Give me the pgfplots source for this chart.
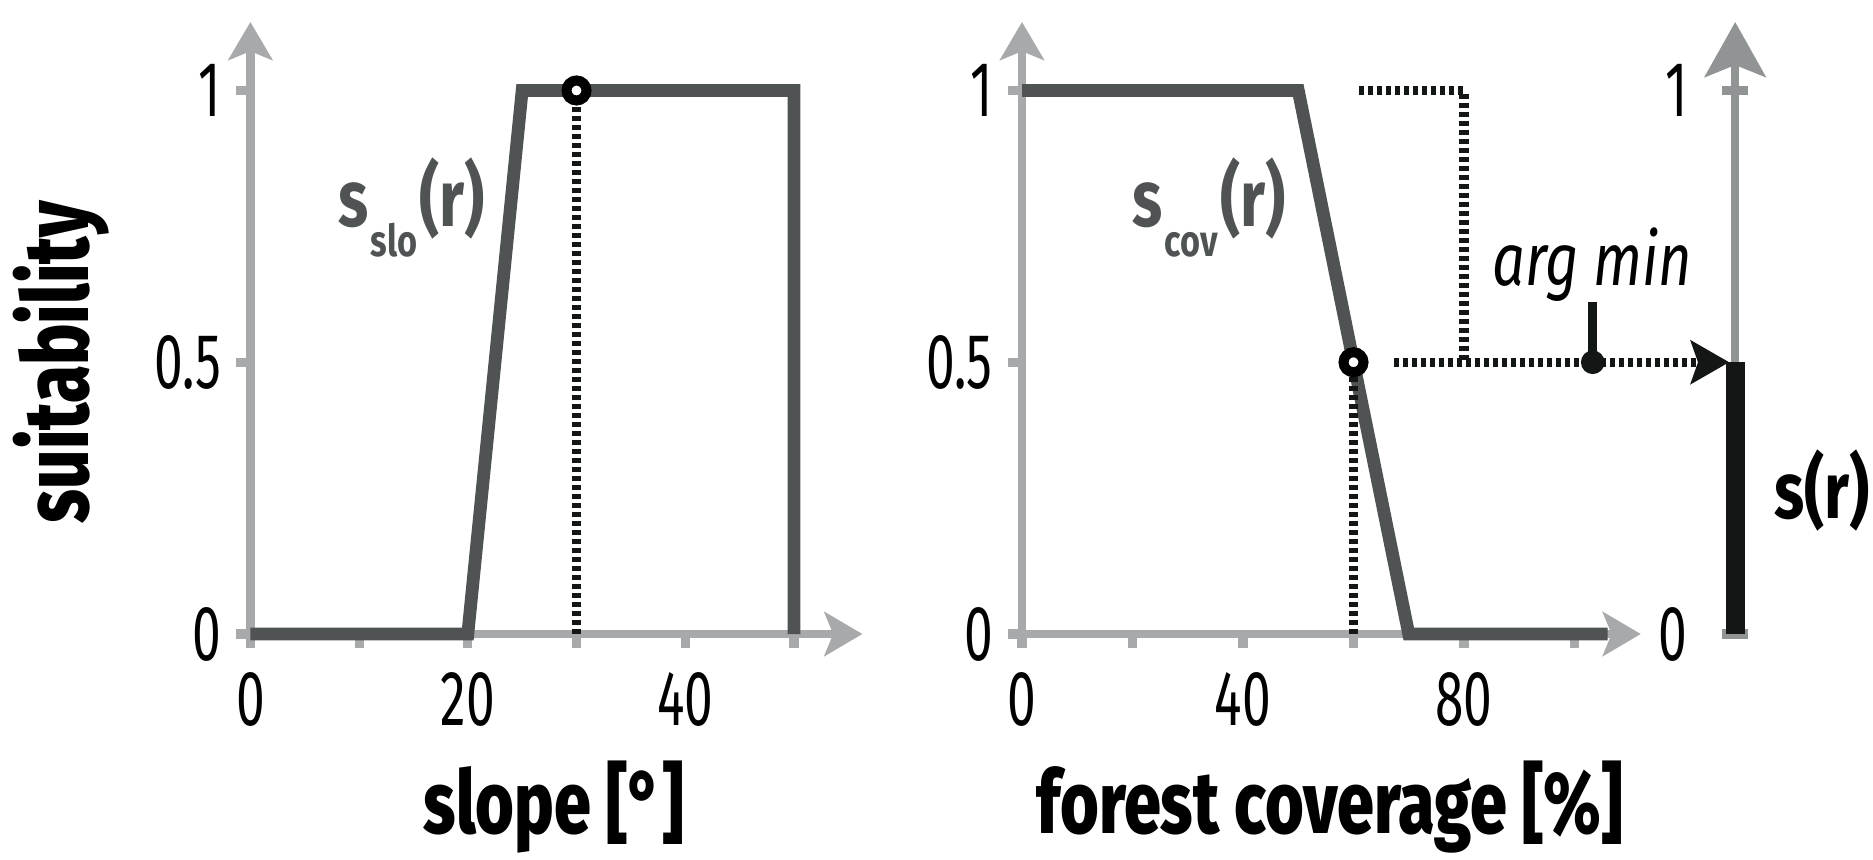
\documentclass[border=0pt]{standalone}
\usepackage{fontspec}
\setmainfont{Fira Sans}[FakeStretch=0.78, UprightFont={* Light}, ItalicFont={* Italic}, BoldFont={* Bold}, BoldItalicFont={* Bold Italic}]
\newfontfamily\tickfont{Fira Sans}[FakeStretch=0.66]
\newfontfamily\labfont{Fira Sans ExtraBold}[FakeStretch=0.755]
\usepackage{pgfplots}
\pgfplotsset{compat=1.18}
\usetikzlibrary{arrows.meta}
\definecolor{axgray}{HTML}{A7A9AA}
\definecolor{axthree}{HTML}{919495}
\definecolor{curvegray}{HTML}{4F5354}
\definecolor{nearblack}{HTML}{121614}
\pgfplotsset{
  myaxis/.style={
    scale only axis, axis lines=left,
    axis line style={axgray, line width=2.2pt},
    x axis line style={-{Stealth[length=9.5pt,width=11pt,inset=2.2pt]}},
    y axis line style={-{Stealth[length=9.5pt,width=11pt,inset=2.2pt]}},
    tick align=outside, major tick length=3.5pt,
    tick style={axgray, line width=2.3pt},
    ymin=0, ymax=1.126, ytick={0,0.5,1},
    clip=false,
    /pgf/number format/assume math mode=true,
    ticklabel style={font=\tickfont\fontsize{19.5}{19.5}\selectfont, inner sep=0pt, text=black},
    yticklabel style={xshift=-3.6pt},
    xticklabel style={yshift=-6pt},
  },
  curve/.style={curvegray, line width=3.2pt, line join=miter, mark=none},
  dots/.style={nearblack, line width=2.3pt, dash pattern=on 1.3pt off 0.95pt, mark=none},
  ring/.style={only marks, mark=*, mark size=2.5pt, mark options={draw=black, fill=white, line width=2.5pt, solid}},
}
\newcommand{\slab}[2]{{\fontsize{20}{20}\selectfont\bfseries #1\hspace{0.5pt}\raisebox{-7.5pt}{\fontsize{11}{11}\selectfont #2}\hspace{0.5pt}(r)}}
\begin{document}
\begin{tikzpicture}
\path[use as bounding box] (0,0) rectangle (468.25pt,214.75pt);
% left panel
\begin{axis}[myaxis, at={(62.6pt,56.25pt)}, anchor=south west,
  width=153pt, height=153pt, xmin=0, xmax=56.3,
  xtick={0,10,...,50}, xticklabels={0,,20,,40,}]
\addplot[curve] coordinates {(0,0) (20,0) (25,1) (50,1) (50,0)};
\addplot[dots] coordinates {(30,0) (30,1)};
\addplot[ring] coordinates {(30,1)};
\node[text=curvegray, anchor=base west, inner sep=0pt] at (axis cs:8.05,0.749) {\slab{s}{slo}};
\end{axis}
% right panel
\begin{axis}[myaxis, at={(255.5pt,56.25pt)}, anchor=south west,
  width=154.7pt, height=153pt, xmin=0, xmax=112,
  xtick={0,20,...,100}, xticklabels={0,,40,,80,}]
\addplot[curve] coordinates {(0,1) (50,1) (70,0) (106,0)};
\addplot[dots] coordinates {(60,0) (60,0.5)};
\addplot[dots] coordinates {(61,1) (80,1) (80,0.5)};
\addplot[dots, -{Stealth[length=9.6pt,width=10.8pt,inset=1.8pt]}] coordinates {(67.3,0.5) (128,0.5)};
\addplot[nearblack, line width=2.25pt, mark=none] coordinates {(103.3,0.5) (103.3,0.61)};
\addplot[only marks, mark=*, mark size=2.75pt, nearblack] coordinates {(103.3,0.5)};
\addplot[ring] coordinates {(60,0.5)};
\node[text=curvegray, anchor=base west, inner sep=0pt] at (axis cs:19.9,0.749) {\slab{s}{cov}};
\node[anchor=base, inner sep=0pt, font=\fontsize{18.5}{18.5}\selectfont\itshape] at (axis cs:103.2,0.641) {arg min};
\node[anchor=base, inner sep=0pt, font=\fontsize{20}{20}\selectfont\bfseries] at (axis cs:144.8,0.212) {s(r)};
\end{axis}
% third axis
\begin{axis}[scale only axis, at={(433.8pt,56.25pt)}, anchor=south west,
  width=10pt, height=153pt, xmin=0, xmax=1, ymin=0, ymax=1.126,
  axis x line=none, axis y line=left,
  axis line style={axthree, line width=2.1pt},
  y axis line style={-{Stealth[length=13.75pt,width=15.25pt,inset=3pt]}},
  ytick={0,1}, tick align=center, major tick length=6.5pt,
  tick style={axthree, line width=2.3pt}, clip=false,
  /pgf/number format/assume math mode=true,
  yticklabel style={font=\tickfont\fontsize{19.5}{19.5}\selectfont, inner sep=0pt, text=black, xshift=-8.5pt}]
\addplot[nearblack, line width=4.75pt, mark=none] coordinates {(0,0) (0,0.5)};
\end{axis}
% axis labels
\node[rotate=90, anchor=base, inner sep=0pt, font=\labfont\fontsize{23}{23}\selectfont] at (22pt,124.25pt) {suitability};
\node[anchor=base, inner sep=0pt, font=\labfont\fontsize{22}{22}\selectfont] at (138.5pt,6.5pt) {slope [°]};
\node[anchor=base, inner sep=0pt, font=\labfont\fontsize{22}{22}\selectfont] at (332.5pt,6.5pt) {forest coverage [\%]};
\end{tikzpicture}
\end{document}
